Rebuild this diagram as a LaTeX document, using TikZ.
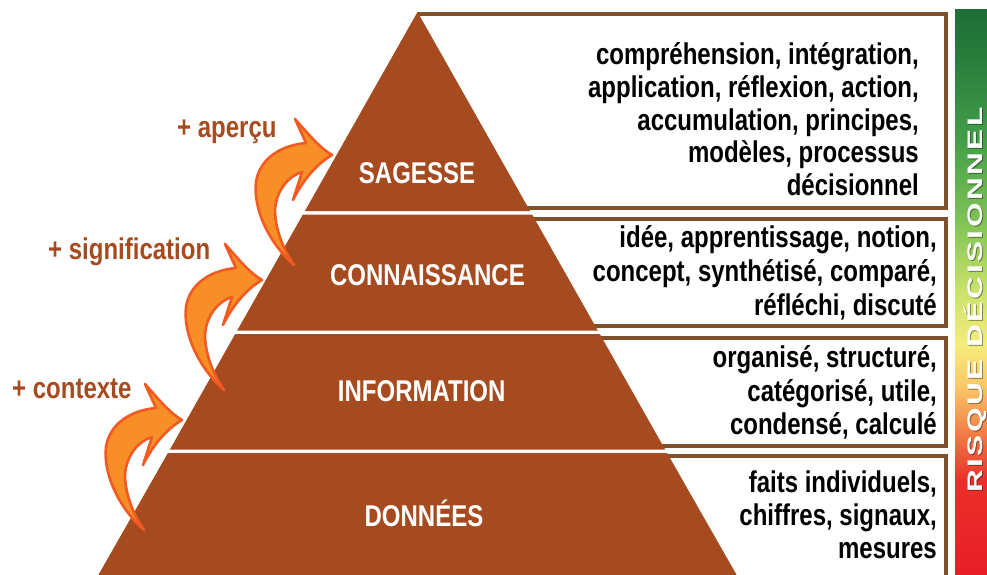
\documentclass[tikz,border=0pt]{standalone}
\usepackage{fontspec}
\newfontfamily\narrowsans{Liberation Sans}[FakeStretch=0.8]
\newfontfamily\risksans{Liberation Sans}[LetterSpace=8]
\definecolor{pyr}{RGB}{166,75,31}
\definecolor{boxbrown}{RGB}{128,80,42}
\definecolor{arrfill}{RGB}{247,142,38}
\definecolor{arrline}{RGB}{241,90,34}
\definecolor{r0}{RGB}{233,30,38}
\definecolor{r1}{RGB}{234,48,42}
\definecolor{r2}{RGB}{243,130,70}
\definecolor{r3}{RGB}{250,200,105}
\definecolor{r4}{RGB}{246,236,122}
\definecolor{r5}{RGB}{200,226,105}
\definecolor{r6}{RGB}{125,195,85}
\definecolor{r7}{RGB}{68,158,72}
\definecolor{r8}{RGB}{40,126,60}
\definecolor{r9}{RGB}{30,110,55}
\pgfdeclareverticalshading{riskshade}{100bp}{color(0bp)=(r0); color(25bp)=(r0); color(33.4bp)=(r1); color(37.8bp)=(r2); color(41.8bp)=(r3); color(45.4bp)=(r4); color(50.2bp)=(r5); color(56.4bp)=(r6); color(63.5bp)=(r7); color(70.6bp)=(r8); color(75bp)=(r9); color(100bp)=(r9)}
\tikzset{
  boxline/.style={draw=boxbrown, line width=4pt},
  band/.style={fill=pyr},
  lvl/.style={text=white, font=\narrowsans\bfseries\fontsize{30}{36}\selectfont, anchor=base, inner sep=0pt},
  desc/.style={text=black, font=\narrowsans\bfseries\fontsize{30}{36}\selectfont, anchor=base east, inner sep=0pt},
  gain/.style={text=pyr, font=\narrowsans\bfseries\fontsize{30}{36}\selectfont, anchor=base west, inner sep=0pt},
  curvarrow/.style={fill=arrfill, draw=arrline, line width=2.6pt, line join=round},
  risktext/.style={font=\risksans\bfseries\fontsize{21}{22}\selectfont, anchor=base, rotate=90, inner sep=0pt}
}
\begin{document}
\begin{tikzpicture}[x=1pt, y=-1pt]
\useasboundingbox (0,0) rectangle (987,575);
\clip (0,0) rectangle (987,575);
% boxes
\draw[boxline] (418,14) -- (946,14) -- (946,208) -- (420,208);
\draw[boxline] (430,219) -- (946,219) -- (946,326) -- (430,326);
\draw[boxline] (430,338) -- (946,338) -- (946,446) -- (430,446);
\draw[boxline] (430,456) -- (946,456) -- (946,590);
% pyramid
\fill[band] (417.5,12) -- (530.1,211) -- (304.9,211) -- cycle;
\fill[band] (302.9,214.5) -- (532.1,214.5) -- (597.8,330.5) -- (237.2,330.5) -- cycle;
\fill[band] (235.2,334) -- (599.8,334) -- (665.1,449.5) -- (169.9,449.5) -- cycle;
\fill[band] (167.9,453) -- (667.1,453) -- (739.5,580) -- (95.5,580) -- cycle;
% level labels
\node[lvl] (sag) at (417,183) {SAGESSE};
\node[lvl] (con) at (427.5,285) {CONNAISSANCE};
\node[lvl] (inf) at (421.7,401.5) {INFORMATION};
\node[lvl] (don) at (424,526.5) {DONNÉES};
% descriptions
\node[desc] (d11) at (919,65) {compréhension, intégration,};
\node[desc] (d12) at (919,97.6) {application, réflexion, action,};
\node[desc] (d13) at (919,130.2) {accumulation, principes,};
\node[desc] (d14) at (919,162.8) {modèles, processus};
\node[desc] (d15) at (919,195.4) {décisionnel};
\node[desc] (d21) at (937,247) {idée, apprentissage, notion,};
\node[desc] (d22) at (937,281) {concept, synthétisé, comparé,};
\node[desc] (d23) at (937,315) {réfléchi, discuté};
\node[desc] (d31) at (937,367) {organisé, structuré,};
\node[desc] (d32) at (937,401) {catégorisé, utile,};
\node[desc] (d33) at (937,434) {condensé, calculé};
\node[desc] (d41) at (937,492) {faits individuels,};
\node[desc] (d42) at (937,525) {chiffres, signaux,};
\node[desc] (d43) at (937,558) {mesures};
% curved arrows
\foreach \dx/\dy in {0/0, -70/125, -150/265} {
  \draw[curvarrow, shift={(\dx,\dy)}] (294,265) .. controls (268,242) and (253,208) .. (256,182)
    .. controls (260,157) and (283,145) .. (306,143) -- (295,119) .. controls (310,136) and (320,148) .. (332,155)
    .. controls (315,165) and (302,182) .. (293,200) -- (302,172)
    .. controls (286,177) and (275,194) .. (275,212) .. controls (276,233) and (285,252) .. (294,265) -- cycle;
}
% gain labels
\node[gain] (ga) at (177,137) {+ aperçu};
\node[gain] (gs) at (48,259) {+ signification};
\node[gain] (gc) at (12,398) {+ contexte};
% risk bar
\fill[shading=riskshade] (955,10) rectangle (987,575);
\node[risktext, text=black, opacity=0.4] (rsh) at (983.3,301) {\scalebox{1.5}[1]{RISQUE DÉCISIONNEL}};
\node[risktext, text=white] (risk) at (982,300) {\scalebox{1.5}[1]{RISQUE DÉCISIONNEL}};
\end{tikzpicture}
\end{document}
